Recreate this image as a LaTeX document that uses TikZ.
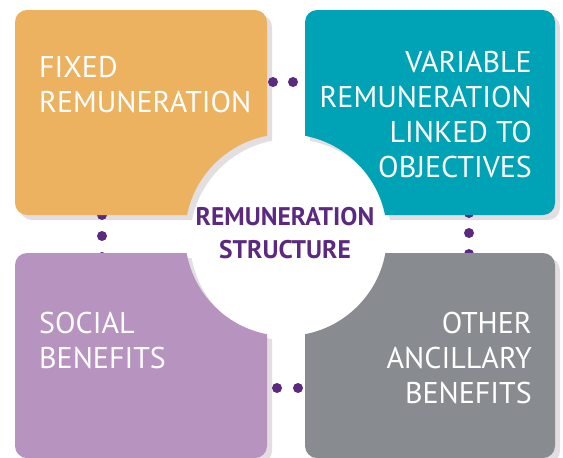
\documentclass[tikz,border=0pt]{standalone}
\usepackage{fontspec}
\setmainfont{PT Sans}
\definecolor{cOrange}{HTML}{ECB260}
\definecolor{cTeal}{HTML}{00A3B5}
\definecolor{cPurple}{HTML}{B793BF}
\definecolor{cGray}{HTML}{888B8F}
\definecolor{cShadow}{HTML}{E2DEE1}
\definecolor{cDark}{HTML}{5B2A80}
\begin{document}
\begin{tikzpicture}[x=1pt,y=-1pt,
  boxtext/.style={text=white,inner sep=0pt,font=\fontsize{30}{35}\selectfont},
  centertext/.style={text=cDark,inner sep=0pt,align=center,font=\bfseries\fontsize{25.5}{33}\selectfont},
  dotmark/.style={fill=cDark}]
\useasboundingbox (0,0) rectangle (563,458);
\def\ccx{286}\def\ccy{235}\def\crad{101}
% shadows
\begin{scope}[shift={(5,5)}]
  \foreach \a/\b/\c/\d in {15/10/267/215, 305/10/555/215, 15/253/267/458, 305/253/555/458}{
    \begin{scope}
      \clip[rounded corners=12] (\a,\b) rectangle (\c,\d);
      \fill[cShadow,even odd rule] (0,0) rectangle (600,500) (\ccx,\ccy) circle[radius=\crad];
    \end{scope}}
\end{scope}
% dots
\foreach \p in {(273,82),(293,82),(277,388),(298,388),(102,215),(102,236),(102,257),(469,213),(469,233),(469,254)}
  \fill[dotmark] \p circle[radius=5];
% boxes
\foreach \a/\b/\c/\d/\col in {15/10/267/215/cOrange, 305/10/555/215/cTeal, 15/253/267/458/cPurple, 305/253/555/458/cGray}{
  \begin{scope}
    \clip[rounded corners=12] (\a,\b) rectangle (\c,\d);
    \fill[\col,even odd rule] (0,0) rectangle (600,500) (\ccx,\ccy) circle[radius=\crad];
  \end{scope}}
\node[boxtext,anchor=base west,align=left] (fixed) at (39,112) {FIXED\\REMUNERATION};
\node[boxtext,anchor=base east,align=right] (variable) at (532,177) {VARIABLE\\REMUNERATION\\LINKED TO\\OBJECTIVES};
\node[boxtext,anchor=base west,align=left] (social) at (39,368) {SOCIAL\\BENEFITS};
\node[boxtext,anchor=base east,align=right] (other) at (532,403) {OTHER\\ANCILLARY\\BENEFITS};
\node[centertext,anchor=base] (center) at (285,258) {REMUNERATION\\STRUCTURE};
\end{tikzpicture}
\end{document}
